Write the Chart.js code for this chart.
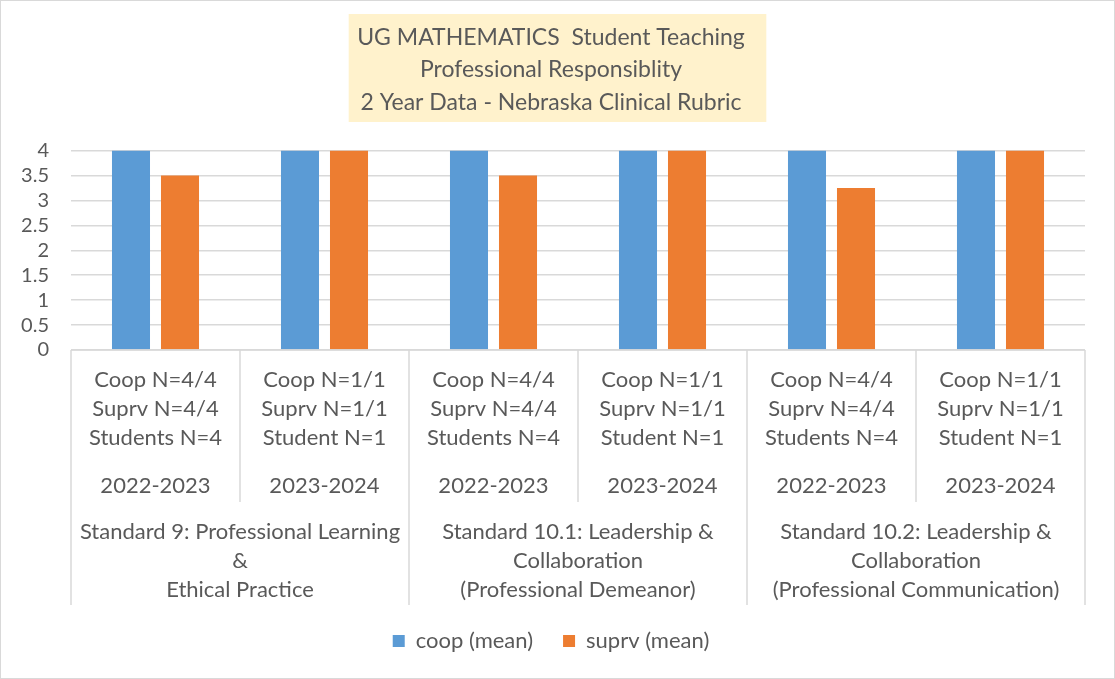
<!DOCTYPE html>
<html>
<head>
<meta charset="utf-8">
<script src="https://cdn.jsdelivr.net/npm/chart.js@4.4.1/dist/chart.umd.min.js"></script>
<style>
  html, body { margin: 0; padding: 0; background: #fff; }
  #wrap { width: 1115px; height: 679px; position: relative; }
</style>
</head>
<body>
<div id="wrap"><canvas id="chart" width="1115" height="679"></canvas></div>
<script>
// values
const countLabels = [
    ["Coop N=4/4", "Suprv N=4/4", "Students N=4"],
    ["Coop N=1/1", "Suprv N=1/1", "Student N=1"],
    ["Coop N=4/4", "Suprv N=4/4", "Students N=4"],
    ["Coop N=1/1", "Suprv N=1/1", "Student N=1"],
    ["Coop N=4/4", "Suprv N=4/4", "Students N=4"],
    ["Coop N=1/1", "Suprv N=1/1", "Student N=1"]
];
const yearLabels = ["2022-2023", "2023-2024", "2022-2023", "2023-2024", "2022-2023", "2023-2024"];
const standardLabels = [
    ["Standard 9: Professional Learning", "&", "Ethical Practice"],
    ["Standard 10.1: Leadership &", "Collaboration", "(Professional Demeanor)"],
    ["Standard 10.2: Leadership &", "Collaboration", "(Professional Communication)"]
];
const coopMean  = [4, 4, 4, 4, 4, 4];
const suprvMean = [3.5, 4, 3.5, 4, 3.25, 4];
const titleLines = ["UG MATHEMATICS  Student Teaching", "Professional Responsiblity", "2 Year Data - Nebraska Clinical Rubric"];

const FONT = "Lato, 'Open Sans', sans-serif";
const TEXT = "#595959";
const LINE = "#d9d9d9";
const TITLE_SIZE = 23;

// yellow box behind the title, plus the outer frame
const titleBox = {
    id: 'titleBox',
    beforeDraw(chart)
    {
        const ctx = chart.ctx;
        ctx.save();
        ctx.strokeStyle = LINE;
        ctx.lineWidth = 1;
        ctx.strokeRect(0.5, 0.5, chart.width - 1, chart.height - 1);

        ctx.font = TITLE_SIZE + "px " + FONT;
        let w = 0;
        titleLines.forEach( (t) => { w = Math.max(w, ctx.measureText(t).width); } );
        const cx = chart.width / 2;
        ctx.fillStyle = "#FFF2CC";
        ctx.fillRect(cx - w/2 - 15, 14, w + 30, 108);
        ctx.restore();
    }
};

// three-level category axis drawn under the plot
const multiAxis = {
    id: 'multiAxis',
    afterDraw(chart)
    {
        const ctx = chart.ctx;
        const xs = chart.scales.x;
        const area = chart.chartArea;
        const n = countLabels.length;
        const w = (xs.right - xs.left) / n;
        const y0 = area.bottom;

        ctx.save();
        ctx.strokeStyle = LINE;
        ctx.lineWidth = 1.5;
        ctx.beginPath();
        ctx.moveTo(xs.left, y0);
        ctx.lineTo(xs.right, y0);
        for(let i = 0; i <= n; i++)
        {
            const x = xs.left + i*w;
            ctx.moveTo(x, y0);
            ctx.lineTo(x, (i % 2 == 0) ? y0 + 255 : y0 + 152);
        }
        ctx.stroke();

        ctx.fillStyle = TEXT;
        ctx.font = "22px " + FONT;
        ctx.textAlign = "center";
        ctx.textBaseline = "middle";
        for(let i = 0; i < n; i++)
        {
            const cx = xs.getPixelForValue(i);
            countLabels[i].forEach( (t, k) => ctx.fillText(t, cx, y0 + 30 + k*29) );
            ctx.fillText(yearLabels[i], cx, y0 + 136);
        }
        standardLabels.forEach( (lines, g) =>
        {
            const cx = xs.left + (2*g + 1)*w;
            lines.forEach( (t, k) => ctx.fillText(t, cx, y0 + 182 + k*29) );
        } );
        ctx.restore();
    }
};

new Chart(document.getElementById('chart'),
{
    type: 'bar',
    data: {
        labels: yearLabels.map( (y, i) => countLabels[i].join(" ") + " " + y ),
        datasets: [
            { label: "coop (mean)",  data: coopMean,  backgroundColor: "#5B9BD5", borderWidth: 0 },
            { label: "suprv (mean)", data: suprvMean, backgroundColor: "#ED7D31", borderWidth: 0 }
        ]
    },
    options: {
        responsive: false,
        animation: false,
        categoryPercentage: 0.58,
        barPercentage: 0.776,
        layout: { padding: { left: 17, right: 30, top: 0, bottom: 17 } },
        scales: {
            x: {
                grid: { display: false },
                border: { display: false },
                ticks: { display: false },
                afterFit: (scale) => { scale.height = 250; }
            },
            y: {
                min: 0,
                max: 4,
                ticks: {
                    stepSize: 0.5,
                    autoSkip: false,
                    color: TEXT,
                    font: { family: FONT, size: 20, lineHeight: 1 },
                    padding: 22,
                    callback: (v) => String(v)
                },
                grid: { color: LINE, lineWidth: 1.5, drawTicks: false },
                border: { display: false },
                afterFit: (scale) => { scale.width = 54; }
            }
        },
        plugins: {
            title: {
                display: true,
                text: titleLines,
                color: TEXT,
                font: { family: FONT, size: TITLE_SIZE, weight: 'normal', lineHeight: 32.5 / TITLE_SIZE },
                padding: { top: 21, bottom: 32 }
            },
            legend: {
                position: 'bottom',
                labels: {
                    boxWidth: 12,
                    boxHeight: 12,
                    padding: 30,
                    color: TEXT,
                    font: { family: FONT, size: 22 }
                }
            },
            tooltip: { enabled: false }
        }
    },
    plugins: [titleBox, multiAxis]
});
</script>
</body>
</html>
